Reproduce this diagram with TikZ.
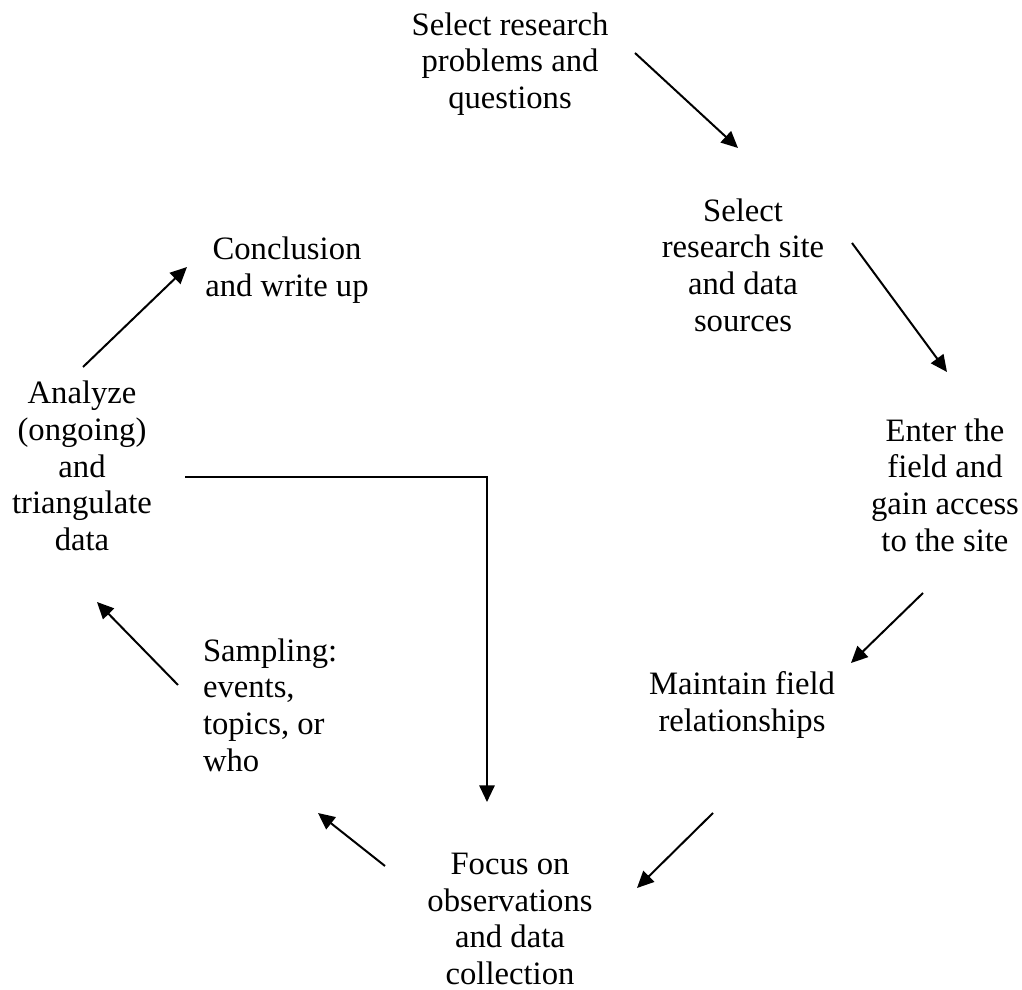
\documentclass[tikz,border=0pt]{standalone}
\usepackage{fontspec}
\setmainfont{Liberation Serif}
\usetikzlibrary{arrows.meta}

\begin{document}
\begin{tikzpicture}[x=0.3pt,y=-0.3pt,>={Triangle[length=5pt,width=4.6pt]},line width=0.6pt,
  every node/.style={align=center,inner sep=0pt,font=\fontsize{9.8}{11}\selectfont}]
  \useasboundingbox (0,0) rectangle (1022,990);

  \node (problems)   at (510,64)  {Select research\\problems and\\questions};
  \node (site)       at (743,265) {Select\\research site\\and data\\sources};
  \node (enter)      at (945,485) {Enter the\\field and\\gain access\\to the site};
  \node (maintain)   at (742,705) {Maintain field\\relationships};
  \node (focus)      at (510,919) {Focus on\\observations\\and data\\collection};
  \node[anchor=west,align=left] (sampling) at (202,705) {Sampling:\\events,\\topics, or\\who};
  \node (analyze)    at (82,466)  {Analyze\\(ongoing)\\and\\triangulate\\data};
  \node (conclusion) at (287,270) {Conclusion\\and write up};

  \coordinate (p1) at (635,53);  \coordinate (q1) at (738,148);
  \coordinate (p2) at (852,243); \coordinate (q2) at (947,372);
  \coordinate (p3) at (923,593); \coordinate (q3) at (851,663);
  \coordinate (p4) at (713,813); \coordinate (q4) at (637,888);
  \coordinate (p5) at (385,866); \coordinate (q5) at (318,813);
  \coordinate (p6) at (178,685); \coordinate (q6) at (97,602);
  \coordinate (p7) at (83,367);  \coordinate (q7) at (187,267);
  \coordinate (p8) at (185,477); \coordinate (q8) at (487,802);

  \path[->]
  (p1)
  edge
  (q1)

  (p2)
  edge
  (q2)

  (p3)
  edge
  (q3)

  (p4)
  edge
  (q4)

  (p5)
  edge
  (q5)

  (p6)
  edge
  (q6)

  (p7)
  edge
  (q7)
;
  \draw[->] (p8) -| (q8);
\end{tikzpicture}
\end{document}
